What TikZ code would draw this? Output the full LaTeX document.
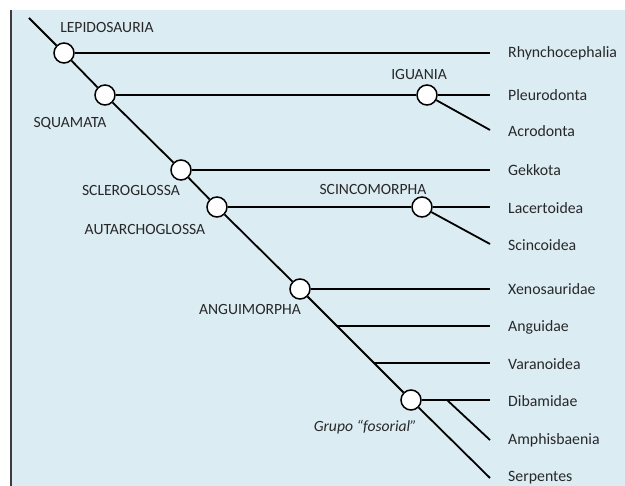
\documentclass[tikz,border=0pt]{standalone}
\usepackage{fontspec}
\setmainfont{Carlito}
\definecolor{panel}{RGB}{219,236,243}
\definecolor{frameline}{RGB}{60,60,60}
\definecolor{ink}{RGB}{40,40,40}
\tikzset{
  clade/.style={circle, draw=black, fill=white, line width=1.5pt, minimum size=20pt, inner sep=0pt},
  branch/.style={line width=1.8pt, line cap=butt},
  taxon/.style={anchor=west, text=ink, inner sep=0pt, font=\fontsize{15.8}{18}\selectfont},
  group/.style={text=ink, inner sep=0pt, font=\fontsize{15.6}{18}\selectfont},
}
\begin{document}
\begin{tikzpicture}[x=1pt, y=-1pt]
  \useasboundingbox (0,0) rectangle (625,486);
  % panel background and left rule
  \fill[panel] (11,10) rectangle (625,486);
  \draw[frameline, line width=1.4pt] (11,10) -- (11,486);

  % internal nodes
  \node[clade] (lep) at (64,53) {};
  \node[clade] (squ) at (105,95) {};
  \node[clade] (igu) at (427,95) {};
  \node[clade] (scl) at (181,170) {};
  \node[clade] (aut) at (217,207) {};
  \node[clade] (sci) at (422,207) {};
  \node[clade] (ang) at (300,289) {};
  \node[clade] (fos) at (411,400) {};

  % free ends and branch points
  \coordinate (root) at (29,18);
  \coordinate (tRhy) at (490,53);
  \coordinate (tPle) at (490,95);
  \coordinate (tAcr) at (490,130);
  \coordinate (tGek) at (490,170);
  \coordinate (tLac) at (490,207);
  \coordinate (tSci) at (490,244);
  \coordinate (tXen) at (490,289);
  \coordinate (bAng) at (337,326);
  \coordinate (tAng) at (490,326);
  \coordinate (bVar) at (374,363);
  \coordinate (tVar) at (490,363);
  \coordinate (bAmp) at (447,400);
  \coordinate (tDib) at (490,400);
  \coordinate (tAmp) at (490,440);
  \coordinate (tSer) at (490,478);

  % spine
  \draw[branch] (root) -- (lep);
  \draw[branch] (lep) -- (squ);
  \draw[branch] (squ) -- (scl);
  \draw[branch] (scl) -- (aut);
  \draw[branch] (aut) -- (ang);
  \draw[branch] (ang) -- (bAng) -- (bVar) -- (fos);
  \draw[branch] (fos) -- (tSer);

  % side branches
  \draw[branch] (lep) -- (tRhy);
  \draw[branch] (squ) -- (igu);
  \draw[branch] (igu) -- (tPle);
  \draw[branch] (igu) -- (tAcr);
  \draw[branch] (scl) -- (tGek);
  \draw[branch] (aut) -- (sci);
  \draw[branch] (sci) -- (tLac);
  \draw[branch] (sci) -- (tSci);
  \draw[branch] (ang) -- (tXen);
  \draw[branch] (bAng) -- (tAng);
  \draw[branch] (bVar) -- (tVar);
  \draw[branch] (fos) -- (tDib);
  \draw[branch] (bAmp) -- (tAmp);

  % terminal taxa
  \node[taxon] (nRhy) at (508,53) {Rhynchocephalia};
  \node[taxon] (nPle) at (508,95) {Pleurodonta};
  \node[taxon] (nAcr) at (508,131) {Acrodonta};
  \node[taxon] (nGek) at (508,170) {Gekkota};
  \node[taxon] (nLac) at (508,208) {Lacertoidea};
  \node[taxon] (nSci) at (508,245) {Scincoidea};
  \node[taxon] (nXen) at (508,289) {Xenosauridae};
  \node[taxon] (nAng) at (508,327) {Anguidae};
  \node[taxon] (nVar) at (508,364) {Varanoidea};
  \node[taxon] (nDib) at (508,401) {Dibamidae};
  \node[taxon] (nAmp) at (508,440) {Amphisbaenia};
  \node[taxon] (nSer) at (508,478) {Serpentes};

  % clade names
  \node[group] (gLep) at (107,27) {LEPIDOSAURIA};
  \node[group] (gSqu) at (70,123) {SQUAMATA};
  \node[group] (gIgu) at (419,74) {IGUANIA};
  \node[group] (gScl) at (131,190) {SCLEROGLOSSA};
  \node[group] (gAut) at (145,229) {AUTARCHOGLOSSA};
  \node[group] (gSci) at (373,189) {SCINCOMORPHA};
  \node[group] (gAng) at (250,309) {ANGUIMORPHA};
  \node[group, anchor=east] (gFos) at (417,427) {\itshape Grupo “fosorial”};
\end{tikzpicture}
\end{document}
